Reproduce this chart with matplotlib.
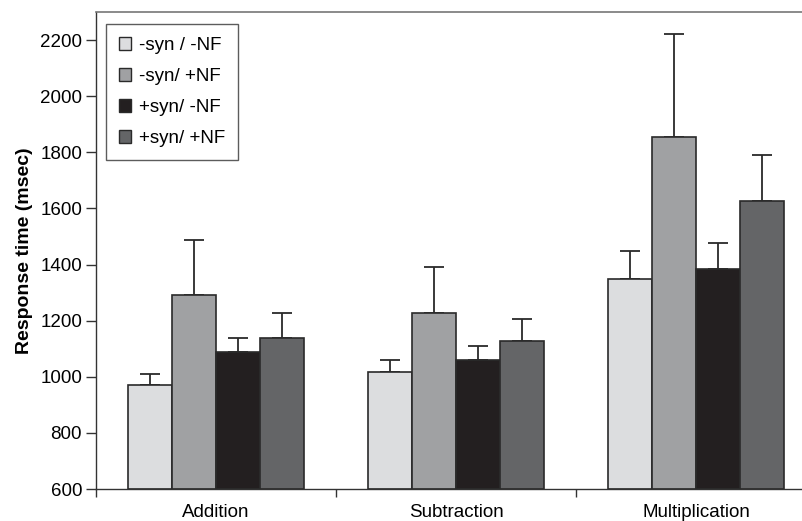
import matplotlib
matplotlib.use("Agg")
import matplotlib.pyplot as plt
import numpy as np

plt.rcParams['font.family'] = ['Liberation Sans', 'DejaVu Sans']

categories = ["Addition", "Subtraction", "Multiplication"]
series_names = ["-syn / -NF", "-syn/ +NF", "+syn/ -NF", "+syn/ +NF"]
means = [
    [970, 1018, 1348],
    [1290, 1228, 1854],
    [1089, 1060, 1385],
    [1139, 1128, 1626],
]
err_tops = [
    [1011, 1058, 1448],
    [1488, 1390, 2220],
    [1139, 1110, 1476],
    [1227, 1205, 1790],
]
colors = ["#dcdddf", "#a0a1a3", "#231f20", "#646567"]

fig = plt.figure(figsize=(8.02, 5.21), dpi=100)
ax = fig.add_axes([96/802, 1-489/521, 720/802, (489-12)/521])

x = np.arange(len(categories))
w = 0.183
for i in range(4):
    pos = x + (i - 1.5) * w
    m = np.array(means[i])
    e = np.array(err_tops[i]) - m
    ax.bar(pos, m - 600, bottom=600, width=w, color=colors[i], edgecolor="#2a2a2a",
           linewidth=1.2, label=series_names[i], zorder=2)
    ax.errorbar(pos, m, yerr=[np.zeros_like(e), e], fmt="none", ecolor="#2a2a2a",
                elinewidth=1.3, capsize=7, capthick=1.3, zorder=1)

ax.set_xlim(-0.5, 2.5)
ax.set_ylim(600, 2300)
ax.set_yticks(np.arange(600, 2201, 200))
ax.set_xticks([-0.5, 0.5, 1.5, 2.5])
ax.set_xticklabels([])
ax.set_xticks(x, minor=True)
ax.set_xticklabels(categories, minor=True)
ax.tick_params(axis="x", which="minor", length=0, pad=11, labelsize=13.5)
ax.tick_params(axis="x", which="major", direction="out", length=6, width=1, color="#333333")
ax.tick_params(axis="y", direction="out", length=7, width=1, color="#333333", labelsize=13.5, pad=3)

ax.spines["right"].set_visible(False)
ax.spines["top"].set_color("#777777")
ax.spines["top"].set_linewidth(1.2)
ax.spines["left"].set_color("#333333")
ax.spines["bottom"].set_color("#333333")
ax.spines["left"].set_linewidth(1)
ax.spines["bottom"].set_linewidth(1)

ax.set_ylabel("Response time (msec)", fontsize=14, fontweight="bold", labelpad=5)

leg = ax.legend(loc="upper left", bbox_to_anchor=(0.0139, 0.975), borderaxespad=0,
                frameon=True, fancybox=False,
                fontsize=13.5, handlelength=0.65, handleheight=0.65, handletextpad=0.4,
                labelspacing=0.75, borderpad=0.7, edgecolor="#333333")
leg.get_frame().set_linewidth(1)
for h in leg.legend_handles:
    h.set_linewidth(1)

fig.savefig("out.png", dpi=100)
